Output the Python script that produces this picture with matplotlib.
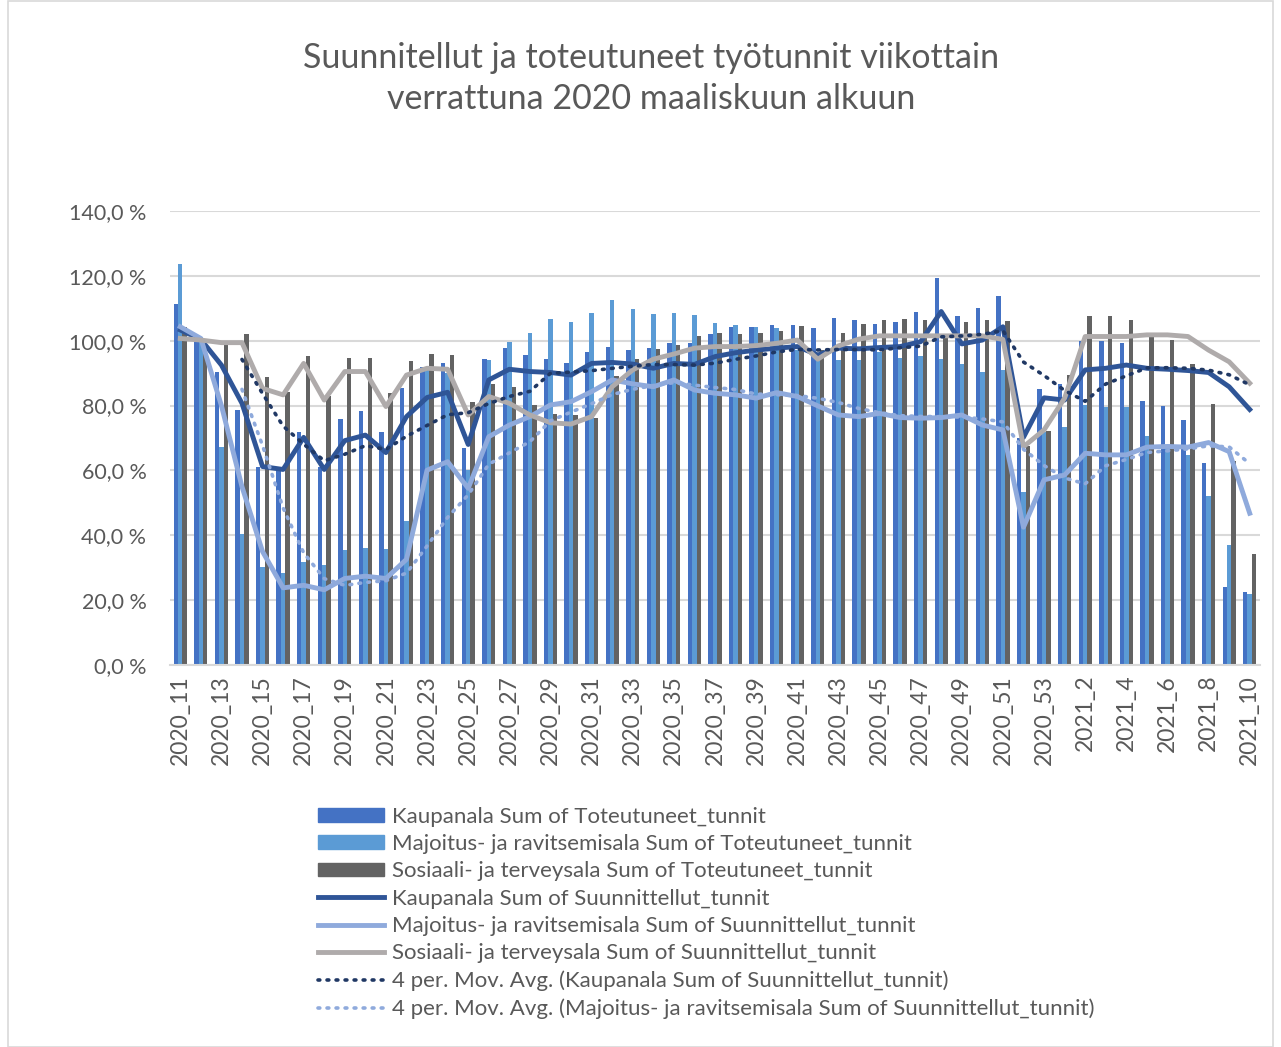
import matplotlib
matplotlib.use("Agg")
import matplotlib.pyplot as plt
import numpy as np
import pandas as pd
from matplotlib.lines import Line2D
from matplotlib.patches import Patch, Rectangle

plt.rcParams['font.family'] = ['Lato', 'DejaVu Sans']

# viikot 2020_11 ... 2021_10
weeks = [f"2020_{w}" for w in range(11, 54)] + [f"2021_{w}" for w in range(1, 11)]

# toteutuneet tunnit (pylväät), % maaliskuun 2020 alusta
kauppa_tot = [111.2, 100.0, 90.2, 78.6, 61.2, 60.0, 71.8, 61.2, 75.8, 78.3, 71.8, 85.3, 92.0, 93.0,
              66.8, 94.3, 97.9, 95.5, 94.3, 93.0, 96.6, 98.1, 97.1, 97.7, 99.2, 99.2, 102.0, 104.2,
              104.1, 104.8, 104.7, 103.8, 107.1, 106.3, 105.1, 105.9, 108.7, 119.2, 107.6, 110.0,
              113.8, 70.0, 85.2, 86.8, 100.0, 99.8, 99.2, 81.3, 79.9, 75.4, 62.2, 24.0, 22.4]
majoitus_tot = [123.6, 101.0, 67.3, 40.3, 30.3, 28.5, 31.9, 30.8, 35.5, 36.0, 35.8, 44.4, 91.0, 90.0,
                60.0, 93.9, 99.7, 102.5, 106.7, 105.8, 108.5, 112.6, 109.8, 108.1, 108.5, 107.8,
                105.6, 104.8, 104.1, 103.8, 97.0, 94.0, 93.9, 94.1, 96.6, 94.6, 95.4, 94.4, 92.7,
                90.3, 91.0, 53.3, 71.8, 73.3, 80.2, 79.7, 79.7, 70.5, 67.8, 64.8, 52.2, 37.1, 22.0]
sosiaali_tot = [104.3, 99.0, 99.2, 102.0, 88.9, 84.3, 95.4, 82.8, 94.8, 94.8, 83.8, 93.6, 95.8, 95.5,
                81.0, 86.7, 85.8, 80.2, 77.3, 77.1, 76.1, 89.2, 94.3, 97.4, 98.7, 101.3, 102.3, 102.1,
                102.3, 103.1, 104.6, 97.0, 102.3, 105.1, 106.4, 106.7, 106.4, 101.8, 105.9, 106.5,
                106.0, 67.5, 72.3, 89.3, 107.7, 107.5, 106.4, 102.3, 100.2, 92.8, 80.5, 63.0, 34.3]

# suunnitellut tunnit (viivat)
kauppa_plan = [103.3, 100.4, 92.5, 80.7, 61.2, 60.3, 70.2, 60.3, 69.2, 70.9, 65.5, 76.6, 82.5, 84.1,
               68.0, 87.9, 91.2, 90.5, 90.2, 89.4, 93.0, 93.3, 92.8, 91.5, 93.0, 92.7, 95.1, 96.3,
               97.1, 97.7, 98.2, 95.6, 97.7, 97.5, 97.9, 98.2, 99.7, 109.0, 99.0, 100.2, 104.3,
               70.2, 82.4, 81.7, 91.0, 91.5, 92.5, 91.5, 91.2, 90.8, 90.2, 85.8, 78.8]
majoitus_plan = [104.3, 100.7, 80.0, 55.0, 35.0, 23.8, 24.6, 23.2, 26.7, 27.4, 26.7, 32.6, 60.1, 62.7,
                 54.5, 70.4, 74.0, 76.6, 80.2, 81.2, 84.3, 87.9, 86.7, 85.8, 87.9, 84.8, 83.8, 83.3,
                 82.3, 84.0, 82.8, 79.9, 77.1, 76.6, 77.6, 76.3, 76.1, 76.3, 77.1, 74.0, 72.5, 42.5,
                 57.1, 58.6, 65.3, 64.8, 64.8, 67.2, 67.4, 67.2, 68.6, 65.8, 46.8]
sosiaali_plan = [100.7, 100.2, 99.4, 99.4, 85.3, 83.3, 93.0, 81.7, 90.5, 90.5, 79.7, 89.4, 91.5, 91.2,
                 77.1, 82.8, 80.7, 77.1, 74.7, 74.3, 76.6, 85.8, 91.0, 94.3, 95.9, 97.7, 98.2, 98.2,
                 98.5, 99.2, 100.2, 94.3, 98.4, 100.5, 101.5, 101.5, 101.5, 101.5, 101.5, 101.5,
                 100.4, 67.3, 72.5, 82.3, 101.3, 101.3, 101.3, 101.8, 101.8, 101.3, 97.1, 93.5, 86.9]

# 4 jakson liukuva keskiarvo (Excelin trendiviiva)
kauppa_ma = pd.Series(kauppa_plan).rolling(4).mean()
majoitus_ma = pd.Series(majoitus_plan).rolling(4).mean()

C_K_BAR = "#4472C4"
C_M_BAR = "#5B9BD5"
C_S_BAR = "#636363"
C_K_LINE = "#2F5597"
C_M_LINE = "#8FAADC"
C_S_LINE = "#AFABAB"
C_K_MA = "#203864"
TXT = "#595959"
LW = 3.5
DOT = (0, (0.5, 2.0))

fig = plt.figure(figsize=(12.81, 10.47), dpi=100)
fig.patches.append(Rectangle((0.006, 0.0), 0.988, 0.999, transform=fig.transFigure,
                             fill=False, edgecolor="#D9D9D9", linewidth=1.2))
ax = fig.add_axes([0.1327, 0.3648, 0.8509, 0.4337])

x = np.arange(len(weeks))
w = 0.215
ax.bar(x - w, kauppa_tot, w, color=C_K_BAR, zorder=2)
ax.bar(x, majoitus_tot, w, color=C_M_BAR, zorder=2)
ax.bar(x + w, sosiaali_tot, w, color=C_S_BAR, zorder=2)

ax.plot(x, kauppa_plan, color=C_K_LINE, lw=LW, zorder=3, solid_joinstyle="round")
ax.plot(x, majoitus_plan, color=C_M_LINE, lw=LW, zorder=3, solid_joinstyle="round")
ax.plot(x, sosiaali_plan, color=C_S_LINE, lw=LW, zorder=3, solid_joinstyle="round")
ax.plot(x, kauppa_ma, color=C_K_MA, lw=2.6, ls=DOT, dash_capstyle="round", zorder=4)
ax.plot(x, majoitus_ma, color=C_M_LINE, lw=2.6, ls=DOT, dash_capstyle="round", zorder=4)

ax.set_xlim(-0.5, len(weeks) - 0.5)
ax.set_ylim(0, 140)
yt = np.arange(0, 141, 20)
ax.set_yticks(yt)
ax.set_yticklabels([f"{v:.1f} %".replace(".", ",") for v in yt], fontsize=15.5, color=TXT)
ax.set_xticks(x[::2])
ax.set_xticklabels(weeks[::2], rotation=90, fontsize=16.5, color=TXT)
ax.tick_params(axis="y", length=0, pad=17)
ax.tick_params(axis="x", length=0, pad=7)
ax.grid(axis="y", color="#D9D9D9", lw=1.5, zorder=0)
ax.set_axisbelow(True)
for s in ["left", "right", "top"]:
    ax.spines[s].set_visible(False)
ax.spines["bottom"].set_color("#D9D9D9")
ax.spines["bottom"].set_linewidth(1.5)

fig.text(0.508, 0.925, "Suunnitellut ja toteutuneet työtunnit viikottain\nverrattuna 2020 maaliskuun alkuun",
         ha="center", va="center", fontsize=24.5, color=TXT, linespacing=1.33)

handles = [
    Patch(color=C_K_BAR), Patch(color=C_M_BAR), Patch(color=C_S_BAR),
    Line2D([], [], color=C_K_LINE, lw=LW), Line2D([], [], color=C_M_LINE, lw=LW),
    Line2D([], [], color=C_S_LINE, lw=LW),
    Line2D([], [], color=C_K_MA, lw=2.6, ls=DOT, dash_capstyle="round"),
    Line2D([], [], color=C_M_LINE, lw=2.6, ls=DOT, dash_capstyle="round"),
]
labels = [
    "Kaupanala Sum of Toteutuneet_tunnit",
    "Majoitus- ja ravitsemisala Sum of Toteutuneet_tunnit",
    "Sosiaali- ja terveysala Sum of Toteutuneet_tunnit",
    "Kaupanala Sum of Suunnittellut_tunnit",
    "Majoitus- ja ravitsemisala Sum of Suunnittellut_tunnit",
    "Sosiaali- ja terveysala Sum of Suunnittellut_tunnit",
    "4 per. Mov. Avg. (Kaupanala Sum of Suunnittellut_tunnit)",
    "4 per. Mov. Avg. (Majoitus- ja ravitsemisala Sum of Suunnittellut_tunnit)",
]
leg = fig.legend(handles, labels, loc="upper left", bbox_to_anchor=(0.241, 0.238),
                 frameon=False, fontsize=16, handlelength=3.0, handleheight=0.55,
                 handletextpad=0.36, labelspacing=0.33, borderaxespad=0)
for t in leg.get_texts():
    t.set_color(TXT)

fig.savefig("out.png", dpi=100, facecolor="white")
